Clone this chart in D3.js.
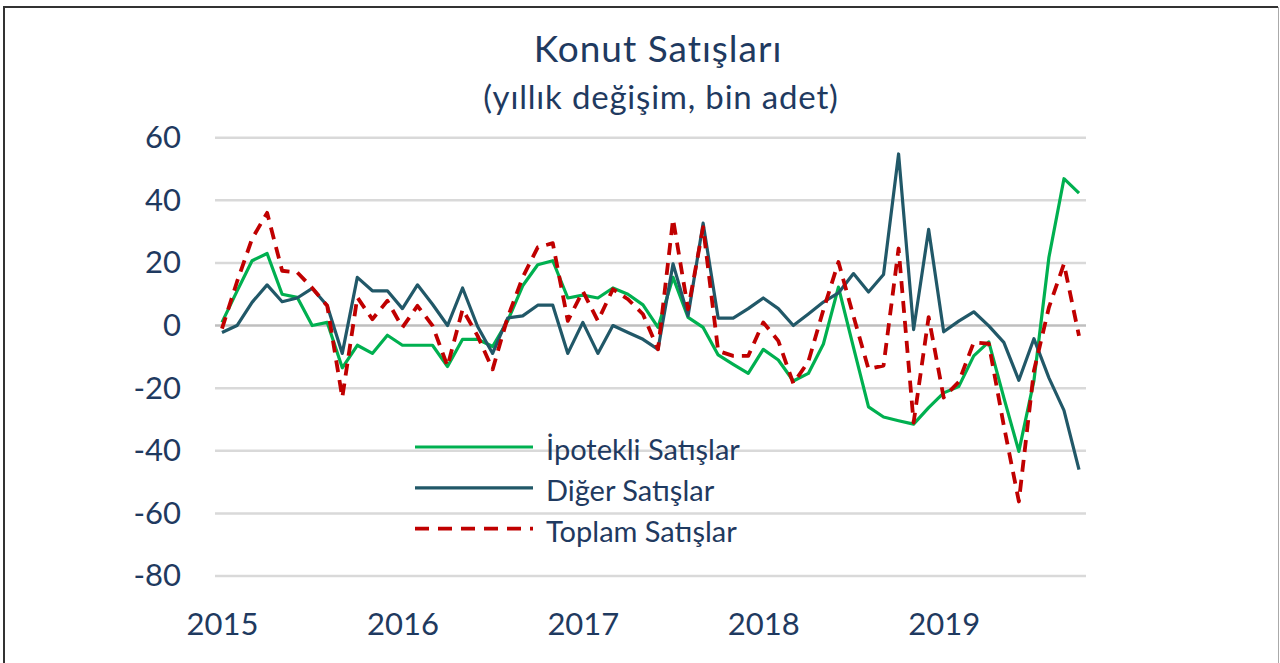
<!DOCTYPE html>
<html>
<head>
<meta charset="utf-8">
<script src="https://cdn.jsdelivr.net/npm/d3@7"></script>
<style>
  body { margin: 0; background: #fff; }
  svg { display: block; font-family: Lato, "Open Sans", sans-serif; }
</style>
</head>
<body>
<div class="chart"></div>
<script>
const width = 1280;
const height = 663;
const textColor = '#1f3a60';

// monthly, Jan 2015 .. Oct 2019
const months = d3.timeMonth.range(new Date(2015, 0, 1), new Date(2019, 10, 1));
const yearLabels = ['2015', '2016', '2017', '2018', '2019'];
const yTicks = [60, 40, 20, 0, -20, -40, -60, -80];

const ipotekli = [1, 11, 20.7, 23, 10, 9, 0, 1, -13.5, -6.3, -8.9, -3.1,
  -6.3, -6.3, -6.3, -13.1, -4.4, -4.4, -6.7, 1.5, 12.7, 19.4, 20.7, 8.8,
  9.7, 8.8, 12, 10, 6.6, -0.6, 15.4, 2.6, -0.6, -9.4, -12.4, -15.3,
  -7.6, -11, -17.7, -15.3, -5.9, 12.3, -7, -26, -29.2, -30.4, -31.5, -26.2,
  -21.5, -19.5, -9.7, -5.2, -23, -40.2, -17.7, 21.8, 46.9, 42.3];

const diger = [-2.2, 0, 7.4, 13, 7.6, 8.8, 11.9, 6.3, -8.9, 15.4, 11.1, 11.1,
  5.4, 13, 6.8, 0, 12, -0.3, -8.9, 2.4, 3.1, 6.5, 6.5, -8.9,
  1, -8.9, 0, -2.2, -4.4, -7.6, 19.7, 3.1, 32.7, 2.4, 2.4, 5.4,
  8.8, 5.4, 0, 3.7, 7.5, 10.4, 16.6, 10.7, 16.3, 54.8, -1.3, 30.7,
  -2, 1.4, 4.4, -0.1, -5.4, -17.5, -4.2, -16.7, -27.1, -46];

const toplam = [-1, 14, 27.7, 36, 17.5, 17, 12, 6.3, -23, 9, 2, 7.9,
  -0.6, 6.3, 0, -13, 5.2, -3.3, -14, 2.6, 15.4, 25, 26.3, 1.5,
  11, 1.5, 11.6, 8.4, 3.6, -7.6, 34, 5.2, 31.4, -8.1, -9.7, -9.7,
  1, -4.9, -18.5, -11.5, 5, 20.3, 3, -13.9, -12.8, 24.6, -31, 2.7,
  -23, -18, -5.4, -5.8, -32, -56.2, -14.5, 5.8, 19.7, -3.3];

const seriesNames = ['İpotekli Satışlar', 'Diğer Satışlar', 'Toplam Satışlar'];

const series = [
  {name: seriesNames[0], values: ipotekli, color: '#00b050', w: 3.2, dash: null},
  {name: seriesNames[1], values: diger, color: '#215868', w: 3.2, dash: null},
  {name: seriesNames[2], values: toplam, color: '#c00000', w: 3.8, dash: '12,8'}
];

const svg = d3.select('.chart')
  .append('svg')
  .attr('width', width)
  .attr('height', height);

svg.append('rect').attr('width', width).attr('height', height).attr('fill', '#fff');

// frame of the pasted picture
svg.append('path').attr('d', 'M4,663V7H1278').attr('fill', 'none')
  .attr('stroke', '#333').attr('stroke-width', 2);
svg.append('line').attr('x1', 1278.5).attr('x2', 1278.5).attr('y1', 7).attr('y2', 663)
  .attr('stroke', '#aaa').attr('stroke-width', 1);

const xScale = d3.scalePoint()
  .domain(months)
  .range([222, 1079]);

const yScale = d3.scaleLinear()
  .domain([-80, 60])
  .range([576, 137.7]);

// gridlines
svg.append('g')
  .selectAll('line')
  .data(yTicks)
  .enter().append('line')
  .attr('x1', 215)
  .attr('x2', 1086)
  .attr('y1', d => yScale(d))
  .attr('y2', d => yScale(d))
  .attr('stroke', d => d === 0 ? '#bfbfbf' : '#d9d9d9')
  .attr('stroke-width', 2.5);

// y axis labels (plain hyphen, as in the original)
const yAxis = d3.axisLeft(yScale).tickValues(yTicks).tickFormat(d => String(d)).tickSize(0).tickPadding(0);
const gy = svg.append('g')
  .attr('transform', 'translate(181,0)')
  .call(yAxis);
gy.select('.domain').remove();
gy.selectAll('text')
  .attr('fill', textColor)
  .style('font-family', 'Lato, sans-serif')
  .style('font-size', '31px');

// x axis labels, one per January
const jans = months.filter(d => d.getMonth() === 0);
const xAxis = d3.axisBottom(xScale)
  .tickValues(jans)
  .tickFormat((d, i) => yearLabels[i])
  .tickSize(0)
  .tickPadding(0);
const gx = svg.append('g')
  .attr('transform', 'translate(0,613)')
  .call(xAxis);
gx.select('.domain').remove();
gx.selectAll('text')
  .attr('fill', textColor)
  .style('font-family', 'Lato, sans-serif')
  .style('font-size', '31px');

const line = d3.line()
  .x((d, i) => xScale(months[i]))
  .y(d => yScale(d));

svg.append('g')
  .selectAll('path')
  .data(series)
  .enter().append('path')
  .attr('d', d => line(d.values))
  .attr('fill', 'none')
  .attr('stroke', d => d.color)
  .attr('stroke-width', d => d.w)
  .attr('stroke-dasharray', d => d.dash)
  .attr('stroke-linejoin', 'round');

// title
svg.append('text')
  .attr('x', 658)
  .attr('y', 62)
  .attr('text-anchor', 'middle')
  .attr('fill', textColor)
  .style('font-size', '37px')
  .style('letter-spacing', '1px')
  .text('Konut Satışları');

svg.append('text')
  .attr('x', 661)
  .attr('y', 109)
  .attr('text-anchor', 'middle')
  .attr('fill', textColor)
  .style('font-size', '33px')
  .style('letter-spacing', '0.8px')
  .text('(yıllık değişim, bin adet)');

// legend
const legend = svg.append('g')
  .selectAll('g')
  .data(series)
  .enter().append('g')
  .attr('transform', (d, i) => `translate(0,${447 + i * 40.8})`);

legend.append('line')
  .attr('x1', 415)
  .attr('x2', 533)
  .attr('stroke', d => d.color)
  .attr('stroke-width', d => d.w)
  .attr('stroke-dasharray', d => d.dash ? '14,9' : null);

legend.append('text')
  .attr('x', 546)
  .attr('y', 13)
  .attr('fill', textColor)
  .style('font-size', '29px')
  .text(d => d.name);
</script>
</body>
</html>
